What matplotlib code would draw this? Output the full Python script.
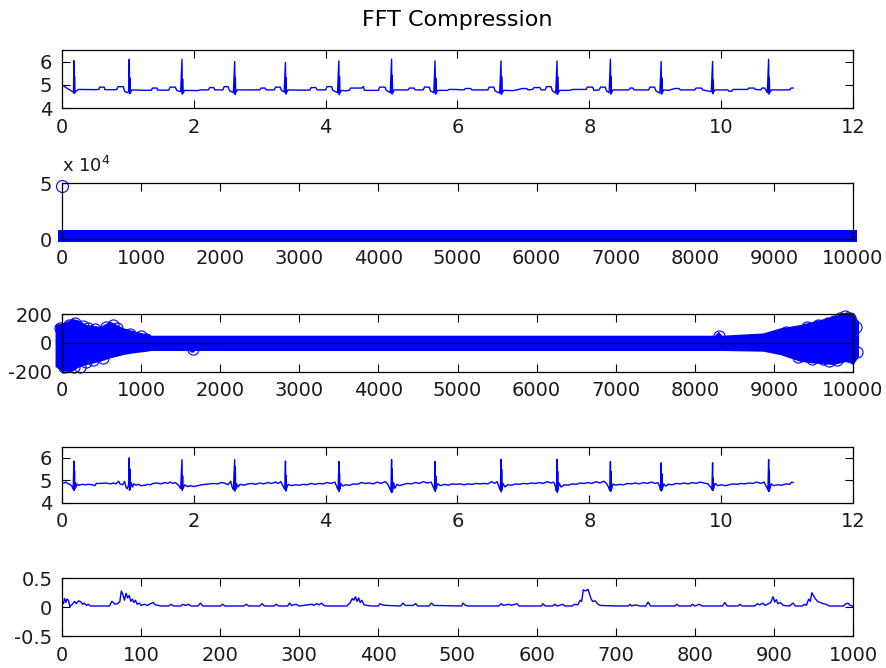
import matplotlib
matplotlib.use("Agg")
import matplotlib.pyplot as plt
import numpy as np
import matplotlib.transforms as mtransforms

# ---------------- data ----------------
# Panel 1: original ECG signal (time s, value)
ecg_t = [0.00, 0.04, 0.08, 0.12, 0.15, 0.165, 0.175, 0.18, 0.186, 0.19, 0.196, 0.21, 0.25, 0.50, 0.56, 0.57, 0.64, 0.65,
         0.83, 0.85, 0.93, 0.95, 0.99, 1.01, 1.02, 1.026, 1.03, 1.036, 1.06, 1.30, 1.36, 1.37, 1.44, 1.45, 1.62, 1.64,
         1.72, 1.74, 1.80, 1.82, 1.826, 1.83, 1.836, 1.86, 2.05, 2.10, 2.22, 2.24, 2.30, 2.32, 2.44, 2.46, 2.52, 2.54,
         2.60, 2.62, 2.626, 2.63, 2.636, 2.66, 2.80, 3.00, 3.02, 3.08, 3.10, 3.22, 3.24, 3.31, 3.33, 3.37, 3.39, 3.396,
         3.40, 3.406, 3.43, 3.60, 3.76, 3.78, 3.85, 3.87, 4.00, 4.02, 4.09, 4.11, 4.18, 4.20, 4.206, 4.21, 4.216, 4.24,
         4.30, 4.36, 4.38, 4.55, 4.57, 4.59, 4.80, 4.82, 4.90, 4.92, 4.98, 5.00, 5.006, 5.01, 5.016, 5.04, 5.25, 5.27,
         5.34, 5.36, 5.48, 5.50, 5.57, 5.59, 5.64, 5.66, 5.666, 5.67, 5.676, 5.70, 5.85, 5.87, 5.95, 6.10, 6.12, 6.20,
         6.22, 6.46, 6.48, 6.55, 6.57, 6.64, 6.66, 6.666, 6.67, 6.676, 6.70, 6.85, 6.90, 6.98, 7.05, 7.07, 7.14, 7.16,
         7.25, 7.27, 7.33, 7.35, 7.42, 7.44, 7.49, 7.51, 7.516, 7.52, 7.526, 7.55, 7.70, 7.75, 7.95, 7.97, 8.05, 8.07,
         8.15, 8.17, 8.24, 8.26, 8.30, 8.32, 8.326, 8.33, 8.336, 8.36, 8.60, 8.62, 8.66, 8.68, 8.90, 8.92, 8.99, 9.01,
         9.07, 9.09, 9.096, 9.10, 9.106, 9.13, 9.20, 9.25, 9.30, 9.36, 9.38, 9.60, 9.62, 9.70, 9.72, 9.85, 9.87, 9.876,
         9.88, 9.886, 9.91, 10.10, 10.12, 10.16, 10.18, 10.40, 10.42, 10.50, 10.52, 10.60, 10.62, 10.66, 10.68, 10.70,
         10.72, 10.726, 10.73, 10.736, 10.76, 11.04, 11.06, 11.09]
ecg_v = [5.00, 4.92, 4.84, 4.78, 4.72, 4.70, 4.68, 6.04, 4.62, 5.36, 4.66, 4.72, 4.80, 4.79, 4.80, 4.90, 4.90, 4.79,
         4.79, 4.92, 4.92, 4.72, 4.66, 4.70, 6.10, 4.62, 5.30, 4.64, 4.78, 4.76, 4.77, 4.86, 4.86, 4.77, 4.77, 4.90,
         4.90, 4.76, 4.70, 6.10, 4.60, 5.25, 4.64, 4.76, 4.75, 4.78, 4.78, 4.88, 4.88, 4.78, 4.78, 4.92, 4.92, 4.75,
         4.66, 6.00, 4.58, 5.30, 4.66, 4.78, 4.78, 4.78, 4.86, 4.86, 4.78, 4.78, 4.90, 4.90, 4.76, 4.68, 5.96, 4.60,
         5.30, 4.66, 4.78, 4.77, 4.77, 4.88, 4.88, 4.78, 4.78, 4.92, 4.92, 4.76, 4.66, 6.03, 4.58, 5.35, 4.64, 4.76,
         4.74, 4.76, 4.86, 4.86, 4.93, 4.76, 4.76, 4.90, 4.90, 4.76, 4.66, 6.10, 4.60, 5.40, 4.64, 4.78, 4.78, 4.86,
         4.86, 4.78, 4.78, 4.90, 4.90, 4.74, 4.66, 6.03, 4.60, 5.30, 4.64, 4.76, 4.76, 4.80, 4.80, 4.78, 4.84, 4.84,
         4.78, 4.78, 4.90, 4.90, 4.74, 4.64, 6.03, 4.58, 5.35, 4.64, 4.76, 4.75, 4.78, 4.84, 4.84, 4.78, 4.80, 4.88,
         4.88, 4.78, 4.78, 4.92, 4.92, 4.74, 4.64, 6.03, 4.58, 5.35, 4.64, 4.76, 4.76, 4.80, 4.80, 4.90, 4.90, 4.76,
         4.78, 4.90, 4.90, 4.74, 4.66, 6.10, 4.60, 5.35, 4.66, 4.78, 4.78, 4.86, 4.86, 4.78, 4.78, 4.90, 4.90, 4.74,
         4.64, 6.00, 4.60, 5.30, 4.66, 4.78, 4.76, 4.80, 4.84, 4.84, 4.78, 4.78, 4.86, 4.86, 4.78, 4.70, 6.00, 4.62,
         5.20, 4.70, 4.78, 4.78, 4.72, 4.72, 4.80, 4.80, 4.86, 4.86, 4.80, 4.78, 4.86, 4.86, 4.76, 4.66,
         6.10, 4.60, 5.30, 4.66, 4.78, 4.78, 4.86, 4.86]

# Panel 2: FFT magnitude -> DC term and the visible band of the remaining coefficients
fft_dc_index = 0
fft_dc_value = 48000
mag_band_idx = [-50, 10050]
mag_band_lo = [-2140, -2140]
mag_band_hi = [8300, 8300]

# Panel 3: FFT coefficients, visible envelope of the dense cloud of points
coef_idx = [-88, 0, 60, 125, 200, 310, 480, 607, 775, 900, 1070, 1120, 1600, 1640, 1680,
            8250, 8297, 8340, 8862, 9077, 9330, 9494, 9747, 9920, 10000, 10070]
coef_hi = [127, 139, 150, 169, 160, 127, 115, 150, 104, 85, 62, 53, 53, 53, 53,
           53, 80, 53, 69, 104, 127, 150, 185, 216, 200, 150]
coef_lo = [-163, -197, -197, -197, -170, -150, -128, -104, -81, -69, -58, -53, -53, -67, -53,
           -53, -53, -53, -58, -81, -128, -139, -150, -128, -150, -93]
# outlying coefficients visible as separate rings at the edge of the cloud
ring_idx = [-30, 90, 170, 260, 330, 420, 560, 640, 700, 860, 1000, 1060,
            30, 150, 230, 300, 390, 520, 1650, 8300,
            9150, 9420, 9560, 9680, 9760, 9840, 9900, 9960, 10040,
            9300, 9480, 9620, 9700, 9800, 9940, 10050]
ring_val = [100, 125, 140, 120, 100, 95, 110, 125, 105, 60, 45, 30,
            -165, -170, -165, -135, -120, -105, -40, 45,
            75, 110, 125, 140, 150, 175, 185, 170, 110,
            -100, -115, -110, -125, -120, -90, -60]

# Panel 4: reconstructed ECG signal
rec_t = [0.00, 0.03, 0.06, 0.09, 0.12, 0.15, 0.17, 0.18, 0.184, 0.19, 0.195, 0.205, 0.215, 0.23, 0.26, 0.30, 0.36,
         0.40, 0.46, 0.50, 0.52, 0.60, 0.66, 0.70, 0.74, 0.78, 0.82, 0.86, 0.88, 0.92, 0.95, 0.97, 0.99, 1.01, 1.02,
         1.025, 1.03, 1.035, 1.05, 1.07, 1.09, 1.12, 1.16, 1.20, 1.26, 1.30, 1.34, 1.38, 1.44, 1.50, 1.56, 1.60, 1.64,
         1.68, 1.72, 1.76, 1.80, 1.82, 1.825, 1.83, 1.835, 1.86, 1.90, 1.95, 2.00, 2.06, 2.12, 2.18, 2.24, 2.30, 2.36,
         2.42, 2.48, 2.52, 2.56, 2.58, 2.60, 2.62, 2.625, 2.63, 2.635, 2.65, 2.67, 2.70, 2.76, 2.82, 2.88, 2.94, 3.00,
         3.06, 3.12, 3.18, 3.24, 3.28, 3.32, 3.36, 3.38, 3.39, 3.395, 3.40, 3.405, 3.43, 3.48, 3.54, 3.60, 3.66, 3.72,
         3.78, 3.84, 3.90, 3.96, 4.02, 4.08, 4.14, 4.17, 4.19, 4.20, 4.205, 4.21, 4.215, 4.23, 4.26, 4.30, 4.36, 4.42,
         4.48, 4.54, 4.60, 4.66, 4.72, 4.78, 4.84, 4.90, 4.94, 4.97, 4.99, 5.00, 5.005, 5.01, 5.015, 5.03, 5.05, 5.08,
         5.12, 5.18, 5.24, 5.30, 5.36, 5.42, 5.48, 5.54, 5.60, 5.63, 5.65, 5.66, 5.665, 5.67, 5.675, 5.70, 5.74, 5.80,
         5.86, 5.92, 5.98, 6.04, 6.10, 6.16, 6.22, 6.28, 6.34, 6.40, 6.46, 6.52, 6.56, 6.60, 6.63, 6.65, 6.66, 6.665,
         6.67, 6.675, 6.69, 6.72, 6.76, 6.82, 6.88, 6.94, 7.00, 7.06, 7.12, 7.18, 7.24, 7.30, 7.36, 7.42, 7.46, 7.49,
         7.50, 7.51, 7.515, 7.52, 7.525, 7.54, 7.57, 7.62, 7.68, 7.74, 7.80, 7.86, 7.92, 7.98, 8.04, 8.10, 8.16, 8.22,
         8.26, 8.29, 8.31, 8.32, 8.325, 8.33, 8.335, 8.36, 8.40, 8.46, 8.52, 8.58, 8.64, 8.70, 8.76, 8.82, 8.88, 8.94,
         9.00, 9.04, 9.07, 9.08, 9.09, 9.095, 9.10, 9.105, 9.13, 9.16, 9.20, 9.26, 9.32, 9.38, 9.44, 9.50, 9.56, 9.62,
         9.68, 9.74, 9.80, 9.84, 9.86, 9.87, 9.875, 9.88, 9.885, 9.91, 9.95, 10.00, 10.06, 10.12, 10.18, 10.24, 10.30,
         10.36, 10.42, 10.48, 10.54, 10.60, 10.65, 10.69, 10.71, 10.72, 10.725, 10.73, 10.735, 10.76, 10.80, 10.86,
         10.92, 10.98, 11.04, 11.07, 11.09]
rec_v = [4.90, 4.88, 4.92, 4.85, 4.82, 4.74, 4.60, 5.86, 4.55, 5.40, 4.62, 4.90, 4.70, 4.82, 4.78, 4.82, 4.80,
         4.82, 4.80, 4.76, 4.86, 4.86, 4.88, 4.86, 4.84, 4.88, 4.84, 4.96, 4.84, 4.80, 4.95, 4.70, 4.62, 4.80, 6.00,
         4.55, 5.50, 4.60, 4.90, 4.70, 4.85, 4.78, 4.82, 4.76, 4.78, 4.82, 4.80, 4.86, 4.88, 4.84, 4.90, 4.86, 4.92,
         4.86, 4.90, 4.80, 4.64, 5.92, 4.55, 5.20, 4.62, 4.80, 4.72, 4.76, 4.72, 4.76, 4.80, 4.82, 4.84, 4.86, 4.84,
         4.90, 4.86, 4.80, 4.96, 4.70, 4.58, 5.92, 4.52, 5.60, 4.60, 4.85, 4.70, 4.82, 4.78, 4.84, 4.86, 4.82, 4.88,
         4.84, 4.90, 4.86, 4.92, 4.86, 4.94, 4.70, 4.60, 5.86, 4.52, 5.20, 4.62, 4.82, 4.76, 4.80, 4.78, 4.82, 4.80,
         4.86, 4.82, 4.86, 4.84, 4.90, 4.86, 4.92, 4.70, 4.56, 5.84, 4.50, 5.30, 4.60, 4.86, 4.74, 4.80, 4.78, 4.84,
         4.82, 4.90, 4.86, 4.88, 4.84, 4.92, 4.86, 4.94, 4.84, 4.66, 4.50, 5.93, 4.46, 5.50, 4.55, 4.90, 4.64, 4.82,
         4.76, 4.82, 4.86, 4.84, 4.90, 4.86, 4.94, 4.88, 4.92, 4.72, 4.56, 5.84, 4.50, 5.20, 4.62, 4.85, 4.76, 4.82,
         4.78, 4.84, 4.82, 4.84, 4.80, 4.84, 4.82, 4.86, 4.84, 4.86, 4.84, 4.94, 4.86, 4.94, 4.70, 4.55, 5.93, 4.48,
         5.50, 4.58, 4.86, 4.70, 4.80, 4.78, 4.84, 4.82, 4.86, 4.84, 4.88, 4.86, 4.90, 4.86, 4.94, 4.88, 4.92, 4.68,
         4.52, 5.93, 4.46, 5.40, 4.56, 4.88, 4.70, 4.80, 4.78, 4.84, 4.82, 4.88, 4.86, 4.90, 4.86, 4.94, 4.88, 4.96,
         4.86, 4.70, 4.54, 5.84, 4.50, 5.40, 4.58, 4.84, 4.78, 4.82, 4.80, 4.86, 4.84, 4.88, 4.84, 4.90, 4.86, 4.92,
         4.86, 4.90, 4.70, 4.56, 5.78, 4.52, 5.30, 4.60, 4.84, 4.74, 4.82, 4.80, 4.86, 4.84, 4.88, 4.84, 4.90, 4.86,
         4.92, 4.88, 4.84, 4.70, 4.58, 5.78, 4.55, 5.10, 4.62, 4.86, 4.76, 4.80, 4.76, 4.80, 4.84, 4.82, 4.86,
         4.84, 4.88, 4.86, 4.92, 4.86, 4.92, 4.70, 4.56, 5.93, 4.50, 5.45, 4.58, 4.84, 4.76, 4.80,
         4.78, 4.84, 4.82, 4.92, 4.90]

# Panel 5: error signal (sample index, value)
err_i = [0, 2, 3, 5, 6, 8, 10, 13, 16, 18, 21, 24, 26, 28, 31, 33, 36, 60, 63, 65, 67, 70, 73, 75, 77, 79, 81, 83, 85,
         87, 89, 91, 93, 95, 98, 100, 104, 108, 112, 115, 118, 125, 135, 138, 141, 150, 153, 156, 160, 163, 172, 175,
         178, 200, 203, 206, 230, 233, 236, 250, 253, 256, 268, 271, 274, 285, 288, 290, 296, 300, 316, 318, 322, 325,
         328, 331, 335, 360, 364, 367, 369, 371, 373, 375, 377, 379, 382, 386, 390, 400, 402, 405, 410, 428, 431, 434,
         444, 447, 450, 464, 467, 470, 505, 507, 510, 515, 552, 555, 558, 565, 568, 575, 578, 606, 608, 611, 620, 623,
         626, 633, 636, 645, 648, 652, 655, 657, 659, 662, 665, 667, 669, 671, 674, 677, 680, 700, 716, 718, 720, 725,
         730, 738, 741, 744, 775, 777, 780, 795, 797, 800, 806, 809, 835, 838, 841, 855, 857, 860, 876, 879, 882, 886,
         889, 893, 896, 899, 901, 903, 905, 908, 912, 920, 924, 927, 936, 939, 941, 944, 946, 948, 950, 952, 954, 956,
         959, 962, 966, 970, 988, 991, 994, 996, 1000]
err_v = [0.10, 0.06, 0.15, 0.08, 0.14, 0.12, 0.01, 0.05, 0.10, 0.06, 0.11, 0.09, 0.05, 0.07, 0.03, 0.05, 0.02, 0.02,
         0.10, 0.08, 0.05, 0.06, 0.09, 0.28, 0.22, 0.12, 0.24, 0.16, 0.20, 0.10, 0.14, 0.08, 0.12, 0.05, 0.07, 0.03,
         0.05, 0.03, 0.06, 0.08, 0.04, 0.02, 0.02, 0.05, 0.02, 0.02, 0.05, 0.03, 0.05, 0.02, 0.02, 0.07, 0.02, 0.02,
         0.05, 0.02, 0.02, 0.05, 0.02, 0.02, 0.06, 0.02, 0.02, 0.05, 0.02, 0.02, 0.07, 0.03, 0.05, 0.02, 0.05, 0.03,
         0.06, 0.04, 0.07, 0.03, 0.02, 0.02, 0.07, 0.15, 0.12, 0.18, 0.10, 0.16, 0.08, 0.12, 0.04, 0.03, 0.02, 0.02,
         0.06, 0.04, 0.03, 0.02, 0.07, 0.03, 0.03, 0.06, 0.02, 0.02, 0.07, 0.03, 0.02, 0.07, 0.03, 0.02, 0.02, 0.06,
         0.03, 0.05, 0.03, 0.06, 0.02, 0.02, 0.06, 0.02, 0.02, 0.05, 0.02, 0.05, 0.02, 0.02, 0.05, 0.04, 0.12, 0.10,
         0.30, 0.28, 0.31, 0.22, 0.14, 0.10, 0.11, 0.06, 0.03, 0.02, 0.02, 0.05, 0.02, 0.04, 0.02, 0.02, 0.09, 0.02,
         0.02, 0.05, 0.02, 0.02, 0.05, 0.02, 0.05, 0.02, 0.02, 0.08, 0.02, 0.02, 0.05, 0.02, 0.02, 0.06, 0.04, 0.07,
         0.03, 0.06, 0.08, 0.18, 0.09, 0.13, 0.06, 0.08, 0.03, 0.02, 0.07, 0.02, 0.02, 0.05, 0.03, 0.14, 0.10, 0.25,
         0.20, 0.15, 0.12, 0.09, 0.08, 0.06, 0.05, 0.02, 0.02, 0.06, 0.07, 0.03, 0.02]

title_text = "FFT Compression"
blue = (0, 0, 1)

# ---------------- figure ----------------
plt.rcParams['font.family'] = ['DejaVu Sans']
plt.rcParams['axes.unicode_minus'] = False

W, H = 886, 668
fig = plt.figure(figsize=(W / 100, H / 100), dpi=100)

left_px, right_px = 62, 853
tops_px = [50, 183.3, 314, 446.7, 578.3]
heights_px = [58, 56, 57.7, 56, 57.7]

axes = []
for tp, hp in zip(tops_px, heights_px):
    ax = fig.add_axes([left_px / W, 1 - (tp + hp) / H, (right_px - left_px) / W, hp / H])
    axes.append(ax)

fs = 14
def style(ax):
    for s in ax.spines.values():
        s.set_linewidth(0.9)
        s.set_color('black')
        s.set_zorder(5)
    ax.tick_params(direction='in', length=5.5, width=0.8, top=True, right=True,
                   labelsize=fs, pad=7, colors='black', labelcolor='#1a1a1a')

def labels(vals):
    return ['%g' % v for v in vals]

# Panel 1
ax = axes[0]
ax.plot(ecg_t, ecg_v, color=blue, lw=1.0)
ax.set_xlim(0, 12); ax.set_ylim(4, 6.5)
ax.set_xticks(range(0, 13, 2)); ax.set_yticks([4, 5, 6])
style(ax)
ax.set_title(title_text, fontsize=16, pad=17)

# Panel 2
ax = axes[1]
ax.fill_between(mag_band_idx, mag_band_lo, mag_band_hi, color=blue, lw=0, clip_on=False, zorder=2)
ax.plot([fft_dc_index], [fft_dc_value], 'o', mfc='none', mec=blue, ms=8.6, mew=0.8, clip_on=False, zorder=3)
ax.set_xlim(0, 10000); ax.set_ylim(0, 50000)
ax.set_xticks(range(0, 10001, 1000)); ax.set_yticks([0, 50000]); ax.set_yticklabels(['0', '5'])
style(ax)
off = mtransforms.offset_copy(ax.transAxes, fig=fig, x=0, y=7, units='dots')
ax.text(0.0, 1.0, 'x 10$^{4}$', transform=off, ha='left', va='bottom', fontsize=13, color='#1a1a1a')

# Panel 3
ax = axes[2]
ax.fill_between(coef_idx, coef_lo, coef_hi, color=blue, lw=0, clip_on=False, zorder=2)
ax.plot(ring_idx, ring_val, 'o', ls='none', mfc='none', mec=blue, ms=8.0, mew=0.8, clip_on=False, zorder=2.5)
ax.plot([0, 10000], [0, 0], color='black', lw=0.9, zorder=3)
ax.set_xlim(0, 10000); ax.set_ylim(-200, 200)
ax.set_xticks(range(0, 10001, 1000)); ax.set_yticks([-200, 0, 200])
ax.set_yticklabels(labels([-200, 0, 200]))
style(ax)

# Panel 4
ax = axes[3]
ax.plot(rec_t, rec_v, color=blue, lw=1.0)
ax.set_xlim(0, 12); ax.set_ylim(4, 6.5)
ax.set_xticks(range(0, 13, 2)); ax.set_yticks([4, 5, 6])
style(ax)

# Panel 5
ax = axes[4]
ax.plot(err_i, err_v, color=blue, lw=1.0)
ax.set_xlim(0, 1000); ax.set_ylim(-0.5, 0.5)
ax.set_xticks(range(0, 1001, 100)); ax.set_yticks([-0.5, 0, 0.5])
ax.set_yticklabels(labels([-0.5, 0, 0.5]))
style(ax)

fig.savefig("out.png", dpi=100)
